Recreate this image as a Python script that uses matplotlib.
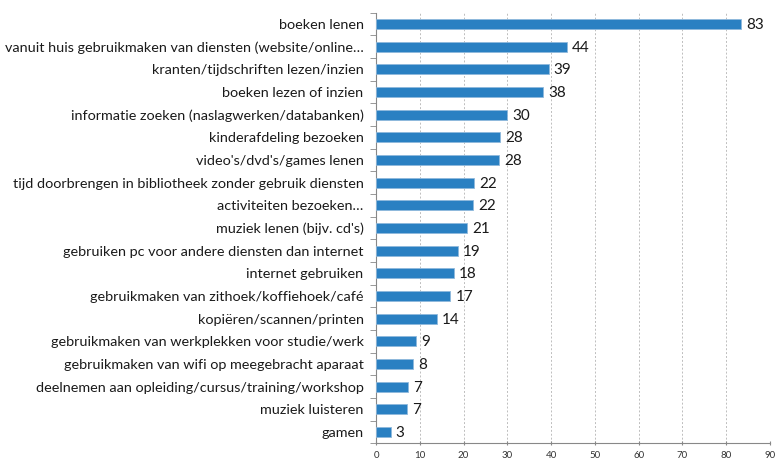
import matplotlib.pyplot as plt
import numpy as np

plt.rcParams['font.family'] = ['Lato', 'DejaVu Sans']

categories = [
    "boeken lenen",
    "vanuit huis gebruikmaken van diensten (website/online…",
    "kranten/tijdschriften lezen/inzien",
    "boeken lezen of inzien",
    "informatie zoeken (naslagwerken/databanken)",
    "kinderafdeling bezoeken",
    "video's/dvd's/games lenen",
    "tijd doorbrengen in bibliotheek zonder gebruik diensten",
    "activiteiten bezoeken…",
    "muziek lenen (bijv. cd's)",
    "gebruiken pc voor andere diensten dan internet",
    "internet gebruiken",
    "gebruikmaken van zithoek/koffiehoek/café",
    "kopiëren/scannen/printen",
    "gebruikmaken van werkplekken voor studie/werk",
    "gebruikmaken van wifi op meegebracht aparaat",
    "deelnemen aan opleiding/cursus/training/workshop",
    "muziek luisteren",
    "gamen",
]
values = [83.4, 43.6, 39.4, 38.1, 29.9, 28.4, 28.1, 22.4, 22.2, 20.8,
          18.7, 17.8, 16.9, 13.9, 9.1, 8.4, 7.3, 7.1, 3.3]

fig = plt.figure(figsize=(7.77, 4.62), dpi=100)
ax = fig.add_axes([0.484, 0.0405, 0.507, 0.932])

y = np.arange(len(categories))
ax.barh(y, values, height=0.45, color='#2a80c2', edgecolor='#8fb9dc', linewidth=0.6, zorder=3)
for yi, v in zip(y, values):
    ax.text(v + 1.2, yi + 0.05, f"{v:.0f}", va='center', ha='left', fontsize=11, color='#1a1a1a')

ax.set_ylim(len(categories) - 0.5, -0.5)
ax.set_xlim(0, 90)
ax.set_xticks(range(0, 91, 10))
ax.tick_params(axis='x', labelsize=7, length=3, direction='inout', colors='#888888', labelcolor='#333333', pad=4)
ax.set_yticks(y)
ax.set_yticklabels(categories, fontsize=10.4, color='#1a1a1a')
ax.tick_params(axis='y', length=0, pad=9)
ax.set_yticks(np.arange(-0.5, len(categories), 1), minor=True)
ax.tick_params(axis='y', which='minor', length=4, color='#888888')

ax.grid(axis='x', linestyle=(0, (2, 2)), color='#bdbdbd', linewidth=0.7, zorder=0)
for s in ['top', 'right']:
    ax.spines[s].set_visible(False)
for s in ['left', 'bottom']:
    ax.spines[s].set_color('#888888')
    ax.spines[s].set_linewidth(0.8)

fig.savefig('out.png', dpi=100)
